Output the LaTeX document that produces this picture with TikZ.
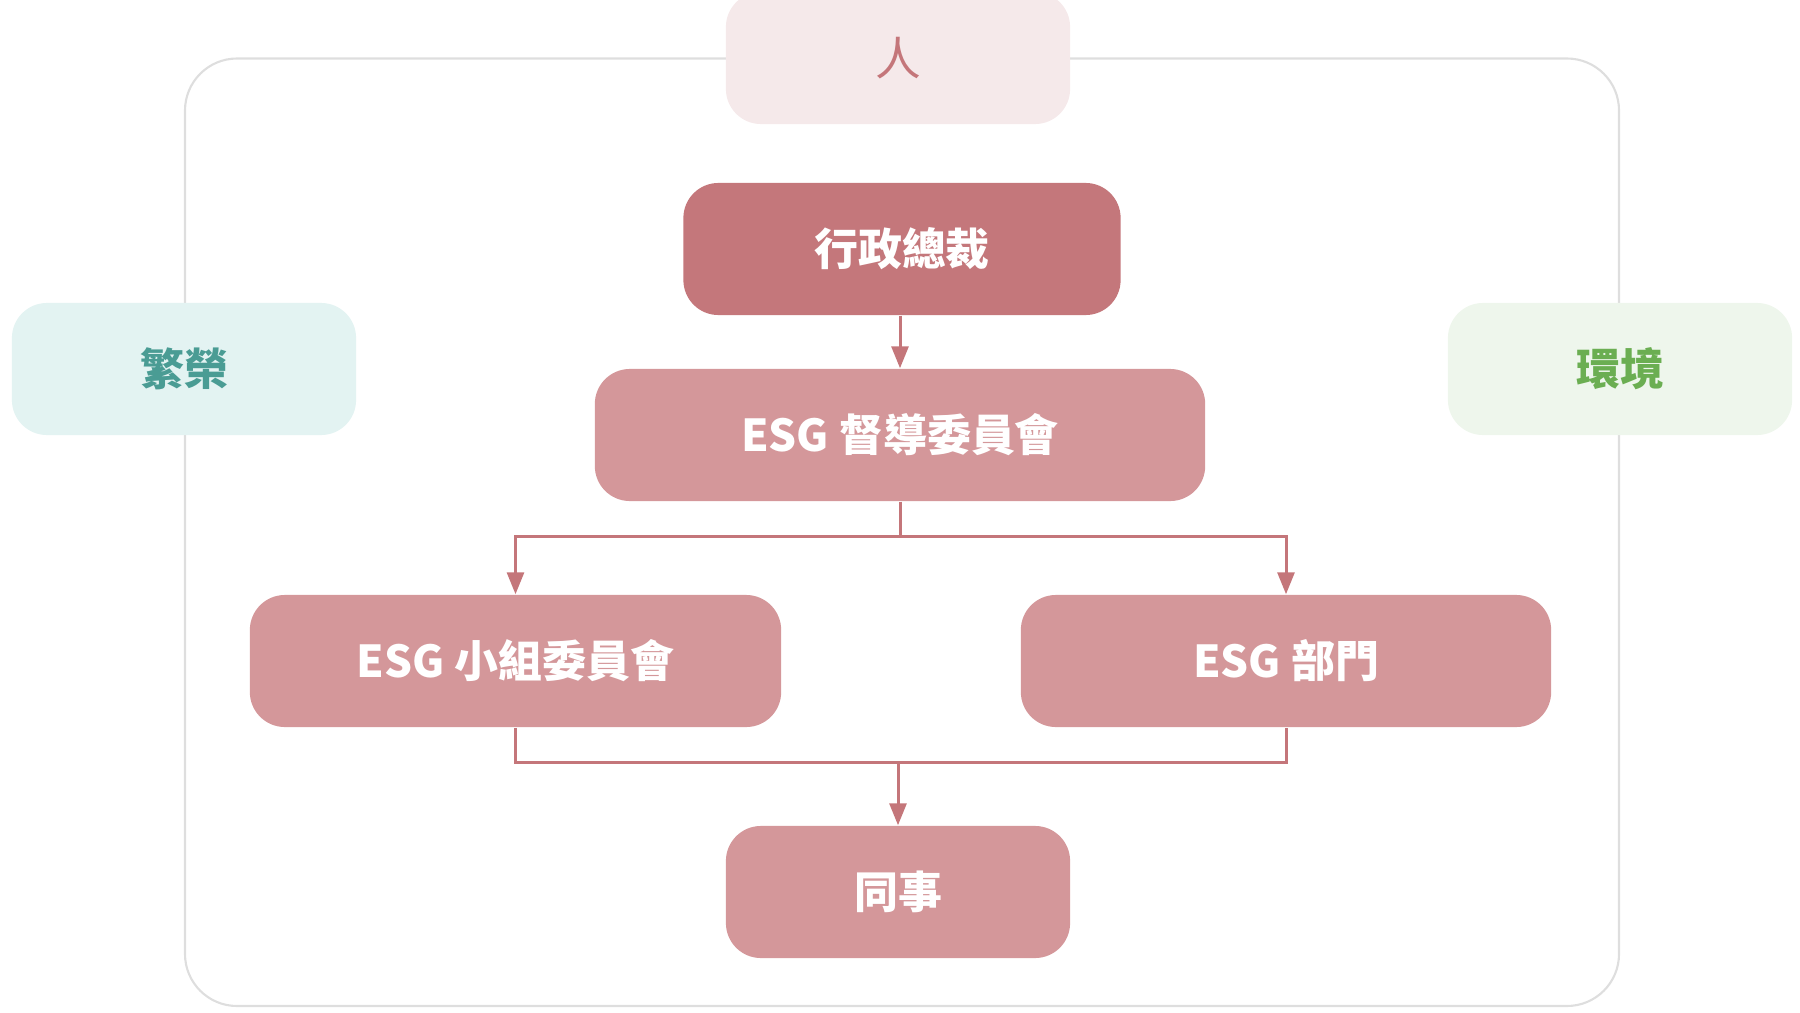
\documentclass[tikz,border=0pt]{standalone}
\usepackage{fontspec}
\newfontfamily\cjk{Noto Sans CJK TC}
\usetikzlibrary{arrows.meta}
\definecolor{darkrose}{HTML}{C4777B}
\definecolor{midrose}{HTML}{D4979A}
\definecolor{palerose}{HTML}{F5E9EA}
\definecolor{rosetext}{HTML}{C4767A}
\definecolor{tealbg}{HTML}{E3F3F2}
\definecolor{tealtext}{HTML}{4A9C94}
\definecolor{greenbg}{HTML}{EEF6EC}
\definecolor{greentext}{HTML}{6BAE52}
\definecolor{framegray}{HTML}{DEDEDE}
\definecolor{linecol}{HTML}{C4767A}
\tikzset{
  box/.style={rectangle, rounded corners=0.35cm, minimum height=1.32cm, inner sep=0pt,
    font=\cjk\bfseries\fontsize{12.5pt}{14pt}\selectfont, text=white},
  darkbox/.style={box, fill=darkrose},
  midbox/.style={box, fill=midrose},
  sidebox/.style={box, minimum width=3.44cm},
  conn/.style={draw=linecol, line width=0.85pt},
  arr/.style={conn, -{Triangle[length=0.22cm,width=0.17cm]}},
}
\begin{document}
\begin{tikzpicture}[x=0.01cm, y=-0.01cm]
\useasboundingbox (0,0) rectangle (1800,1012);
\clip (0,0) rectangle (1800,1012);
\draw[framegray, line width=0.6pt, rounded corners=0.52cm] (185,58.5) rectangle (1619,1006);

\node[sidebox, fill=palerose, text=rosetext, font=\cjk\fontsize{13pt}{14pt}\selectfont] (people) at (898,58) {人};
\node[sidebox, fill=tealbg, text=tealtext] (prosper) at (184,369) {繁榮};
\node[sidebox, fill=greenbg, text=greentext] (env) at (1620,369) {環境};

\node[darkbox, minimum width=4.37cm] (ceo) at (902,249) {行政總裁};
\node[midbox, minimum width=6.10cm] (sup) at (900,435) {ESG 督導委員會};
\node[midbox, minimum width=5.31cm] (grp) at (515.5,661) {ESG 小組委員會};
\node[midbox, minimum width=5.30cm] (dept) at (1286,661) {ESG 部門};
\node[midbox, minimum width=3.44cm] (team) at (898,892) {同事};

\draw[arr] (ceo.south -| sup.north) -- (sup.north);

\coordinate (b1) at (900,536);
\draw[conn] (sup.south) -- (b1);
\draw[arr] (b1) -| (grp.north);
\draw[arr] (b1) -| (dept.north);

\coordinate (m1) at (898,762);
\draw[conn] (grp.south) |- (m1) -| (dept.south);
\draw[arr] (m1) -- (team.north);
\end{tikzpicture}
\end{document}
